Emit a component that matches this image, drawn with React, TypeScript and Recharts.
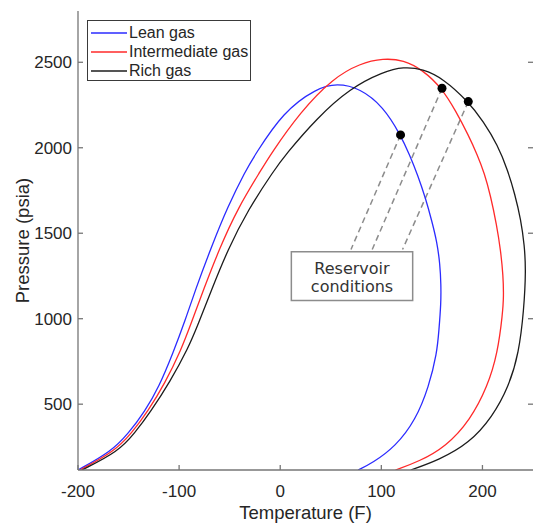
import {
  ComposedChart,
  Line,
  Scatter,
  XAxis,
  YAxis,
  ReferenceArea,
  ReferenceLine,
  Label,
} from 'recharts';

// phase envelopes (temperature F, pressure psia)
const LEAN_T = [-200, -167, -150, -134, -120, -106, -94, -84, -68, -52, -34, -25, 3, 36, 56, 79, 102, 119, 128, 136, 144, 150, 155, 158, 159, 159, 157, 155, 147, 134, 114, 91, 77];
const LEAN_P = [115, 223, 330, 457, 600, 800, 990, 1168, 1421, 1655, 1869, 1958, 2211, 2348, 2377, 2348, 2240, 2075, 1958, 1840, 1700, 1570, 1450, 1320, 1200, 1090, 934, 798, 603, 408, 252, 155, 115];

const INTER_T = [-198, -164, -147, -131, -114, -98, -88, -76, -60, -42, -19, -10, 20, 52, 79, 102, 122, 141, 160, 174, 186, 195, 202, 208, 214, 218, 220.5, 221, 220, 215, 205, 188, 164, 137, 114];
const INTER_P = [115, 223, 330, 457, 623, 818, 975, 1168, 1412, 1646, 1869, 1958, 2211, 2406, 2494, 2523, 2513, 2455, 2348, 2211, 2075, 1958, 1850, 1720, 1550, 1400, 1250, 1130, 1032, 798, 603, 408, 252, 164, 115];

const RICH_T = [-196, -160, -144, -128, -109, -91, -81, -68, -52, -32, -6, 5, 36, 69, 102, 122, 141, 161, 186, 201, 215, 225, 232, 238, 241.5, 243, 241, 236, 226, 210, 187, 157, 129];
const RICH_P = [115, 223, 330, 457, 632, 827, 970, 1168, 1402, 1636, 1869, 1958, 2172, 2348, 2445, 2474, 2461, 2406, 2270, 2153, 2016, 1869, 1730, 1580, 1430, 1285, 1051, 798, 603, 427, 272, 174, 115];

// reservoir points and where their leader lines meet the note box
const RES_T = [119, 160, 186];
const RES_P = [2075, 2348, 2270];
const NOTE_T = [70, 91, 121];
const NOTE_P = [1405, 1405, 1405];
const BOX_T = [11, 131];
const BOX_P = [1106, 1392];

const X_TICKS = [-200, -100, 0, 100, 200];
const Y_TICKS = [500, 1000, 1500, 2000, 2500];
const X_DOMAIN = [-200, 250];
const Y_DOMAIN = [115, 2800];

const SERIES = [
  { name: 'Lean gas', color: '#2b2bff' },
  { name: 'Intermediate gas', color: '#ff2a2a' },
  { name: 'Rich gas', color: '#1c1c1c' },
];

const zip = (ts: number[], ps: number[]) => ts.map((t, i) => ({ t, p: ps[i] }));

const curves = [zip(LEAN_T, LEAN_P), zip(INTER_T, INTER_P), zip(RICH_T, RICH_P)];
const reservoir = zip(RES_T, RES_P);

const AXIS = '#767676';
const TEXT = '#262626';
const axisLine = { stroke: AXIS, strokeWidth: 1.3 };
const tickLine = { stroke: AXIS, strokeWidth: 1.3 };

function LegendBox() {
  return (
    <div
      style={{
        position: 'absolute',
        left: 87,
        top: 20,
        border: '1px solid #3a3a3a',
        background: '#fff',
        width: 164,
        height: 61,
        boxSizing: 'border-box',
        paddingTop: 2,
      }}
    >
      {SERIES.map((s) => (
        <div key={s.name} style={{ display: 'flex', alignItems: 'center', height: 19 }}>
          <svg width={36} height={4} style={{ marginLeft: 3 }}>
            <line x1={0} x2={36} y1={2} y2={2} stroke={s.color} strokeWidth={1.5} />
          </svg>
          <span style={{ marginLeft: 2, fontSize: 16, color: TEXT, lineHeight: '19px' }}>{s.name}</span>
        </div>
      ))}
    </div>
  );
}

function NoteText({ viewBox }: any) {
  const cx = viewBox.x + viewBox.width / 2;
  const cy = viewBox.y + viewBox.height / 2;
  return (
    <g fontFamily="DejaVu Sans" fontSize={16} fill="#333" textAnchor="middle">
      <text x={cx} y={cy - 8} dominantBaseline="central">Reservoir</text>
      <text x={cx} y={cy + 10} dominantBaseline="central">conditions</text>
    </g>
  );
}

function YTitle({ viewBox }: any) {
  const x = viewBox.x + 22;
  const y = viewBox.y + viewBox.height / 2;
  return (
    <text
      x={x}
      y={y}
      transform={`rotate(-90, ${x}, ${y})`}
      textAnchor="middle"
      dominantBaseline="central"
      fontSize={18.5}
      fill={TEXT}
    >
      Pressure (psia)
    </text>
  );
}

export default function App() {
  return (
    <div style={{ position: 'absolute', left: 0, top: 0, width: 534, height: 523, fontFamily: '"Liberation Sans", Arial, sans-serif' }}>
      <ComposedChart width={534} height={523} margin={{ top: 11, right: 0, bottom: 0, left: 0 }}>
        <XAxis
          dataKey="t"
          type="number"
          domain={X_DOMAIN}
          ticks={X_TICKS}
          interval={0}
          allowDataOverflow
          height={53}
          tickSize={-5}
          tickMargin={20}
          axisLine={axisLine}
          tickLine={tickLine}
          tick={{ fontSize: 17, fill: TEXT }}
        >
          <Label value="Temperature (F)" position="insideBottom" offset={4} fontSize={18.5} fill={TEXT} />
        </XAxis>
        <XAxis
          xAxisId="top"
          orientation="top"
          type="number"
          domain={X_DOMAIN}
          ticks={X_TICKS}
          interval={0}
          allowDataOverflow
          height={0}
          tickSize={-5}
          tickFormatter={() => ''}
          axisLine={axisLine}
          tickLine={tickLine}
        />
        <YAxis
          dataKey="p"
          type="number"
          domain={Y_DOMAIN}
          ticks={Y_TICKS}
          interval={0}
          allowDataOverflow
          width={78}
          tickSize={-5}
          tickMargin={11}
          axisLine={axisLine}
          tickLine={tickLine}
          tick={{ fontSize: 17, fill: TEXT }}
        >
          <Label content={YTitle} />
        </YAxis>
        <YAxis
          yAxisId="right"
          orientation="right"
          type="number"
          domain={Y_DOMAIN}
          ticks={Y_TICKS}
          interval={0}
          allowDataOverflow
          width={1}
          tickSize={-5}
          tickFormatter={() => ''}
          axisLine={false}
          tickLine={tickLine}
        />
        <ReferenceArea
          x1={BOX_T[0]}
          x2={BOX_T[1]}
          y1={BOX_P[0]}
          y2={BOX_P[1]}
          fill="#fff"
          fillOpacity={1}
          stroke="#8c8c8c"
          strokeWidth={1.5}
          label={NoteText}
        />
        {RES_T.map((t, i) => (
          <ReferenceLine
            key={t}
            segment={[
              { x: t, y: RES_P[i] },
              { x: NOTE_T[i], y: NOTE_P[i] },
            ]}
            stroke="#8c8c8c"
            strokeWidth={1.5}
            strokeDasharray="6 4"
          />
        ))}
        {SERIES.map((s, i) => (
          <Line
            key={s.name}
            data={curves[i]}
            dataKey="p"
            name={s.name}
            type="basis"
            stroke={s.color}
            strokeWidth={1.3}
            dot={false}
            isAnimationActive={false}
          />
        ))}
        <Scatter
          data={reservoir}
          dataKey="p"
          fill="#000"
          isAnimationActive={false}
          shape={(props: any) => <circle cx={props.cx} cy={props.cy} r={4.5} fill="#000" />}
        />
      </ComposedChart>
      <LegendBox />
    </div>
  );
}
